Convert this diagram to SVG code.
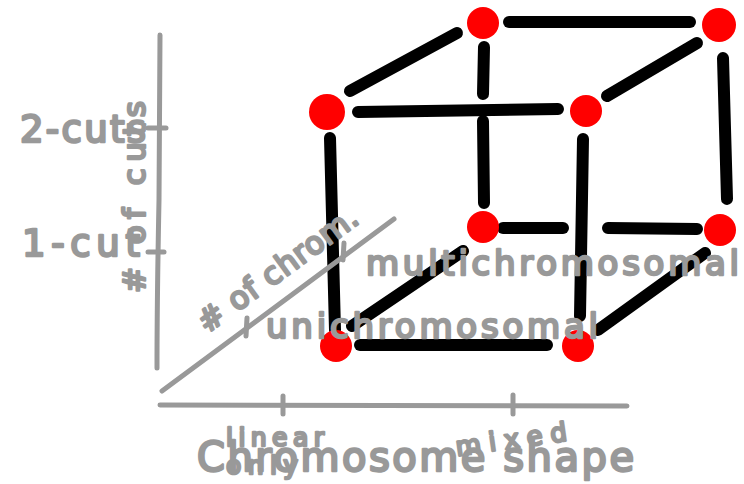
<svg xmlns="http://www.w3.org/2000/svg" width="744" height="484" viewBox="0 0 744 484">
<style>
.edge{stroke:#000;stroke-width:12;stroke-linecap:round;fill:none}
.node{fill:#ff0000}
.axis{stroke:#999;stroke-width:5;stroke-linecap:round;fill:none}
.lbl{font-family:"DejaVu Sans","Liberation Sans",sans-serif;fill:#999;stroke:#999;stroke-width:2.5;stroke-linejoin:round}
</style>
<rect width="744" height="484" fill="#fff"/>
<g id="connectors">
<line class="edge" x1="350" y1="91" x2="457" y2="33"/>
<line class="edge" x1="509" y1="22" x2="690" y2="22"/>
<line class="edge" x1="607" y1="96" x2="697" y2="43"/>
<line class="edge" x1="358" y1="112" x2="558" y2="109"/>
<line class="edge" x1="484" y1="47" x2="483" y2="94"/>
<line class="edge" x1="483" y1="121" x2="484" y2="203"/>
<line class="edge" x1="723" y1="58" x2="727" y2="199"/>
<line class="edge" x1="330" y1="138" x2="335" y2="330"/>
<line class="edge" x1="583" y1="139" x2="580" y2="316"/>
<line class="edge" x1="503" y1="228" x2="563" y2="228"/>
<line class="edge" x1="608" y1="228" x2="697" y2="229"/>
<line class="edge" x1="352" y1="326" x2="463" y2="251"/>
<line class="edge" x1="598" y1="330" x2="705" y2="253"/>
<line class="edge" x1="360" y1="345" x2="547" y2="345"/>
</g>
<g id="n-top-back-left"><circle class="node" cx="483" cy="23" r="16"/></g>
<g id="n-top-back-right"><circle class="node" cx="719" cy="25" r="17"/></g>
<g id="n-top-front-left"><circle class="node" cx="327" cy="112" r="18"/></g>
<g id="n-top-front-right"><circle class="node" cx="586" cy="111" r="16"/></g>
<g id="n-bottom-back-left"><circle class="node" cx="483" cy="227" r="16"/></g>
<g id="n-bottom-back-right"><circle class="node" cx="720" cy="230" r="16"/></g>
<g id="n-bottom-front-left"><circle class="node" cx="336" cy="346" r="16"/></g>
<g id="n-bottom-front-right"><circle class="node" cx="578" cy="346" r="16"/></g>
<g id="axes">
<path class="axis" d="M160,35 L159,200 Q157,300 157,368"/>
<line class="axis" x1="148" y1="128" x2="166" y2="128"/>
<line class="axis" x1="148" y1="252" x2="164" y2="252"/>
<path class="axis" d="M160,405 L627,406"/>
<line class="axis" x1="283" y1="396" x2="283" y2="414"/>
<line class="axis" x1="513" y1="395" x2="513" y2="414"/>
<line class="axis" x1="162" y1="391" x2="394" y2="219"/>
<line class="axis" x1="247" y1="318" x2="246" y2="336"/>
<line class="axis" x1="344" y1="243" x2="343" y2="260"/>
</g>
<g id="labels">
<text class="lbl" x="20" y="142" font-size="37" textLength="126" lengthAdjust="spacing">2-cuts</text>
<text class="lbl" x="22" y="256" font-size="37" textLength="118" lengthAdjust="spacing">1-cut</text>
<text class="lbl" font-size="31" transform="translate(145,293) rotate(-90)" textLength="192" lengthAdjust="spacing">#  of cuts</text>
<text class="lbl" font-size="31" transform="translate(207,334) rotate(-36)" textLength="190" lengthAdjust="spacing"># of chrom.</text>
<text class="lbl" x="266" y="338" font-size="34" textLength="332" lengthAdjust="spacing">unichromosomal</text>
<text class="lbl" x="366" y="275" font-size="34" textLength="373" lengthAdjust="spacing">multichromosomal</text>
<text class="lbl" x="197" y="471" font-size="40" textLength="437" lengthAdjust="spacing">Chromosome shape</text>
<text class="lbl" x="226" y="446" font-size="25" textLength="98" lengthAdjust="spacing">linear</text>
<text class="lbl" x="226" y="474" font-size="25" textLength="72" lengthAdjust="spacing">only</text>
<text class="lbl" font-size="26" transform="translate(457,456) rotate(-8)" textLength="112" lengthAdjust="spacing">mixed</text>
</g>
</svg>
